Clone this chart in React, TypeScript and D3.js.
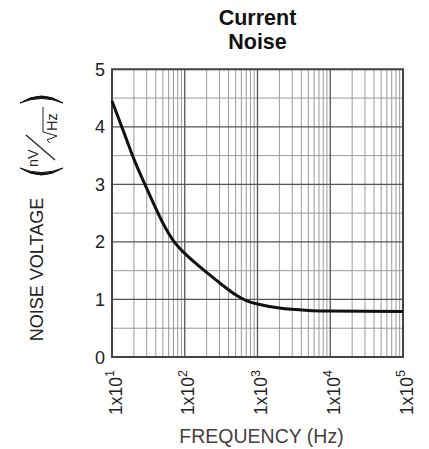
import React from "react";
import * as d3 from "d3";

const freqs = [10, 15, 20, 30, 50, 70, 100, 150, 200, 300, 500, 700, 1000, 2000, 5000, 10000, 100000];
const noise = [4.45, 3.86, 3.44, 2.93, 2.33, 2.02, 1.8, 1.6, 1.47, 1.29, 1.08, 0.98, 0.92, 0.85, 0.81, 0.8, 0.79];
const xTickExps = [1, 2, 3, 4, 5];
const yTicks = [0, 1, 2, 3, 4, 5];
const titleLines = ["Current", "Noise"];

const W = 429, H = 449;
const L = 112, R = 403, T = 69.3, B = 357;
const FONT = "'Liberation Sans', Arial, Helvetica, sans-serif";

export default function App() {
  const x = d3.scaleLog().domain([10, 1e5]).range([L, R]);
  const y = d3.scaleLinear().domain([0, 5]).range([B, T]);

  const minorX: number[] = [];
  const majorX: number[] = [];
  for (let e = 1; e <= 5; e++) {
    majorX.push(Math.pow(10, e));
    if (e < 5) for (let m = 2; m <= 9; m++) minorX.push(m * Math.pow(10, e));
  }
  const halfY = d3.range(0.5, 5, 1);

  const line = d3
    .line<number>()
    .x((_, i) => x(freqs[i]))
    .y((d) => y(d))
    .curve(d3.curveCatmullRom.alpha(0.5));

  const cx = (L + R) / 2;

  return (
    <svg width={W} height={H} style={{ position: "absolute", left: 0, top: 0, background: "#fff" }}>
      <rect width={W} height={H} fill="#fff" />
      {titleLines.map((t, i) => (
        <text key={t} x={cx} y={25 + i * 23.5} textAnchor="middle" fontFamily={FONT} fontWeight="bold" fontSize={21.5} fill="#111">
          {t}
        </text>
      ))}
      {/* minor grid */}
      {minorX.map((v) => (
        <line key={"mx" + v} x1={x(v)} x2={x(v)} y1={T} y2={B} stroke="#9a9a9a" strokeWidth={1} />
      ))}
      {halfY.map((v) => (
        <line key={"hy" + v} x1={L} x2={R} y1={y(v)} y2={y(v)} stroke="#9a9a9a" strokeWidth={1} />
      ))}
      {/* major grid */}
      {majorX.map((v) => (
        <line key={"Mx" + v} x1={x(v)} x2={x(v)} y1={T} y2={B} stroke="#555" strokeWidth={1.3} />
      ))}
      {yTicks.map((v) => (
        <line key={"My" + v} x1={L} x2={R} y1={y(v)} y2={y(v)} stroke="#555" strokeWidth={1.3} />
      ))}
      <rect x={L} y={T} width={R - L} height={B - T} fill="none" stroke="#444" strokeWidth={2} />
      {/* curve */}
      <path d={line(noise) || ""} fill="none" stroke="#111" strokeWidth={3} />
      {/* y tick labels */}
      {yTicks.map((v) => (
        <text key={"yl" + v} x={105} y={y(v) + 6.5} textAnchor="end" fontFamily={FONT} fontSize={18} fill="#222">
          {v}
        </text>
      ))}
      {/* x tick labels */}
      {xTickExps.map((e) => {
        const px = x(Math.pow(10, e));
        return (
          <text
            key={"xl" + e}
            transform={`translate(${px + 9.5},415) rotate(-90)`}
            textAnchor="start"
            fontFamily={FONT}
            fontSize={17.5}
            fill="#222"
          >
            1x10
            <tspan fontSize={12.5} dy={-7.5}>
              {e}
            </tspan>
          </text>
        );
      })}
      <text x={261.5} y={443} textAnchor="middle" fontFamily={FONT} fontSize={19.5} fill="#473f3f">
        FREQUENCY (Hz)
      </text>
      {/* y axis title */}
      <g transform="rotate(-90)">
        <text x={-269.5} y={43} textAnchor="middle" fontFamily={FONT} fontSize={18} fill="#222">
          NOISE VOLTAGE
        </text>
        {/* ( at bottom, ) at top */}
        <path d="M -168 20 Q -182 41.5 -168 63 Q -177 41.5 -168 20 Z" fill="#111" stroke="#111" strokeWidth={1} />
        <path d="M -103 20 Q -89 41.5 -103 63 Q -94 41.5 -103 20 Z" fill="#111" stroke="#111" strokeWidth={1} />
        <text x={-167} y={38} fontFamily={FONT} fontSize={14.5} fill="#222">
          nV
        </text>
        <line x1={-160} y1={55} x2={-135} y2={26} stroke="#222" strokeWidth={1.3} />
        <path d="M -143 50 L -140 47 L -136 57 L -132 43 L -107 43" fill="none" stroke="#222" strokeWidth={1} />
        <text x={-131} y={57} fontFamily={FONT} fontSize={14.5} fill="#222">
          Hz
        </text>
      </g>
    </svg>
  );
}
